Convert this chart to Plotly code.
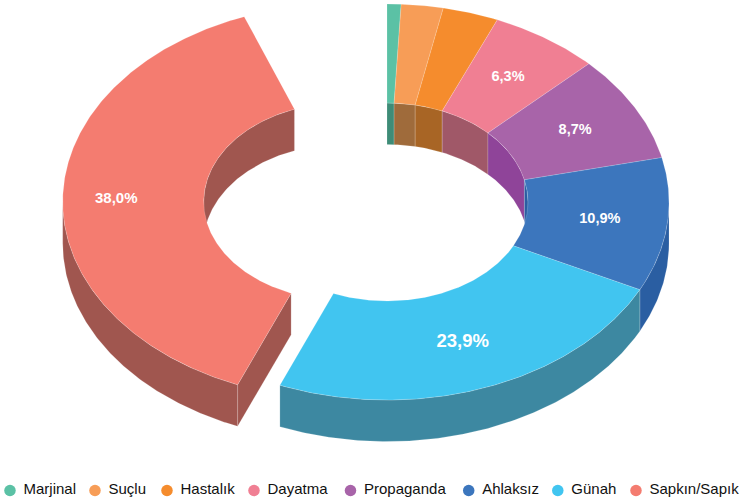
import numpy as np
import plotly.graph_objects as go

# ---------------- data ----------------
categories = ["Marjinal", "Suçlu", "Hastalık", "Dayatma", "Propaganda",
              "Ahlaksız", "Günah", "Sapkın/Sapık"]
values = [0.8, 2.4, 3.2, 6.3, 8.7, 10.9, 23.9, 38.0]   # percent of the full circle
TOTAL = 100.0                                          # remainder of the circle is left empty
pulled = ["Sapkın/Sapık"]

# ---------------- styles ----------------
top_colors = ["#5bc1a5", "#f79d57", "#f58c2d", "#f07f93", "#a864a9",
              "#3c76bd", "#41c5f0", "#f47c70"]
wall_colors = ["#3e8c77", "#9f6b3b", "#a86525", "#a05868", "#8f4499",
               "#2a5ea2", "#3d88a1", "#a0564f"]
LABEL_MIN = 5.0
LABEL_SIZE_DEFAULT = 14.5
LABEL_SIZE = {"Günah": 18.5, "Sapkın/Sapık": 15}
FONT = "Liberation Sans, Arial, sans-serif"
EDGE = "rgba(255,255,255,0.28)"

# ---------------- layout geometry (pixels) ----------------
W, H = 739, 501
CX, CY = 387, 202          # centre of the top face
RX, RY = 282, 198          # outer radii of the tilted ellipse
INNER = 0.5                # hole ratio
DEPTH = 41.5               # thickness of the ring
PULL = 0.15                # pull-out distance (fraction of radius)
LABEL_PULL = 0.20          # labels of pulled slices travel a bit further
LABEL_R = 0.76
LEGEND_X = [10, 95, 167, 254, 350.5, 468.7, 557.8, 636]
LEGEND_Y = 490.5
LEGEND_TEXT_GAP = 13.5


def pt(phi, r, z=0.0, off=(0.0, 0.0)):
    a = np.radians(phi)
    return (CX + RX * r * np.sin(a) + off[0],
            CY - RY * r * np.cos(a) + z + off[1])


def arc(a0, a1, r, z=0.0, off=(0.0, 0.0)):
    n = max(2, int(abs(a1 - a0) * 2) + 2)
    ang = np.linspace(a0, a1, n)
    xs, ys = pt(ang, r, z, off)
    return list(xs), list(ys)


def poly(xs, ys, color):
    return go.Scatter(x=xs + [xs[0]], y=ys + [ys[0]], mode="lines",
                      fill="toself", fillcolor=color,
                      line=dict(color=EDGE, width=0.6),
                      hoverinfo="skip", showlegend=False)


def overlap(a0, a1, b0, b1):
    s, e = max(a0, b0), min(a1, b1)
    return (s, e) if e > s else None


def pull_offset(a0, a1, frac):
    mid = np.radians((a0 + a1) / 2)
    return (RX * frac * np.sin(mid), -RY * frac * np.cos(mid))


# slice angles
angles = []
cum = 0.0
for v in values:
    a0 = cum / TOTAL * 360.0
    cum += v
    a1 = cum / TOTAL * 360.0
    angles.append((a0, a1))

offsets = [pull_offset(a0, a1, PULL) if cat in pulled else (0.0, 0.0)
           for cat, (a0, a1) in zip(categories, angles)]

inner_walls, faces, outer_walls, tops = [], [], [], []
for i, (cat, (a0, a1)) in enumerate(zip(categories, angles)):
    off = offsets[i]
    # inner wall (back half of the hole)
    for b0, b1 in [(0, 90), (270, 360)]:
        ov = overlap(a0, a1, b0, b1)
        if ov:
            x1, y1 = arc(ov[0], ov[1], INNER, 0, off)
            x2, y2 = arc(ov[1], ov[0], INNER, DEPTH, off)
            inner_walls.append(poly(x1 + x2, y1 + y2, wall_colors[i]))
    # outer wall (front half)
    ov = overlap(a0, a1, 90, 270)
    if ov:
        x1, y1 = arc(ov[0], ov[1], 1.0, 0, off)
        x2, y2 = arc(ov[1], ov[0], 1.0, DEPTH, off)
        outer_walls.append(poly(x1 + x2, y1 + y2, wall_colors[i]))
    # radial cut faces where the ring is open
    exposed = cat in pulled
    prev_open = i == 0 or categories[i - 1] in pulled or exposed
    next_open = (i == len(categories) - 1
                 or (i + 1 < len(categories) and categories[i + 1] in pulled)
                 or exposed)
    for ang, visible, is_open in [(a0, np.sin(np.radians(a0)) < -1e-6, prev_open),
                                  (a1, np.sin(np.radians(a1)) > 1e-6, next_open)]:
        if visible and is_open:
            p1 = pt(ang, INNER, 0, off)
            p2 = pt(ang, 1.0, 0, off)
            p3 = pt(ang, 1.0, DEPTH, off)
            p4 = pt(ang, INNER, DEPTH, off)
            faces.append(poly([p1[0], p2[0], p3[0], p4[0]],
                              [p1[1], p2[1], p3[1], p4[1]], wall_colors[i]))
    # top face
    x1, y1 = arc(a0, a1, 1.0, 0, off)
    x2, y2 = arc(a1, a0, INNER, 0, off)
    tops.append(poly(x1 + x2, y1 + y2, top_colors[i]))

fig = go.Figure(inner_walls + faces + outer_walls + tops)

# slice labels
lx, ly, lt, ls = [], [], [], []
for i, (cat, v, (a0, a1)) in enumerate(zip(categories, values, angles)):
    if v >= LABEL_MIN:
        loff = pull_offset(a0, a1, LABEL_PULL) if cat in pulled else (0.0, 0.0)
        x, y = pt((a0 + a1) / 2, LABEL_R, 0, loff)
        lx.append(x)
        ly.append(y)
        lt.append(f"{v:.1f}".replace(".", ",") + "%")
        ls.append(LABEL_SIZE.get(cat, LABEL_SIZE_DEFAULT))
fig.add_trace(go.Scatter(x=lx, y=ly, mode="text", text=lt,
                         textfont=dict(family=FONT, size=ls, color="white", weight="bold"),
                         hoverinfo="skip", showlegend=False))

# legend (circle markers + names)
fig.add_trace(go.Scatter(x=LEGEND_X, y=[LEGEND_Y] * len(categories), mode="markers",
                         marker=dict(size=11.5, color=top_colors, line=dict(width=0)),
                         hoverinfo="skip", showlegend=False))
fig.add_trace(go.Scatter(x=[x + LEGEND_TEXT_GAP for x in LEGEND_X],
                         y=[LEGEND_Y] * len(categories), mode="text",
                         text=categories, textposition="middle right",
                         textfont=dict(family=FONT, size=15, color="#111111"),
                         hoverinfo="skip", showlegend=False))

fig.update_layout(
    width=W, height=H,
    margin=dict(l=0, r=0, t=0, b=0),
    paper_bgcolor="white", plot_bgcolor="white",
    xaxis=dict(range=[0, W], visible=False, fixedrange=True),
    yaxis=dict(range=[H, 0], visible=False, fixedrange=True),
    showlegend=False,
)

fig.write_html("out.html",
               config={"displayModeBar": False},
               post_script="document.body.style.margin='0';document.body.style.overflow='hidden';")
